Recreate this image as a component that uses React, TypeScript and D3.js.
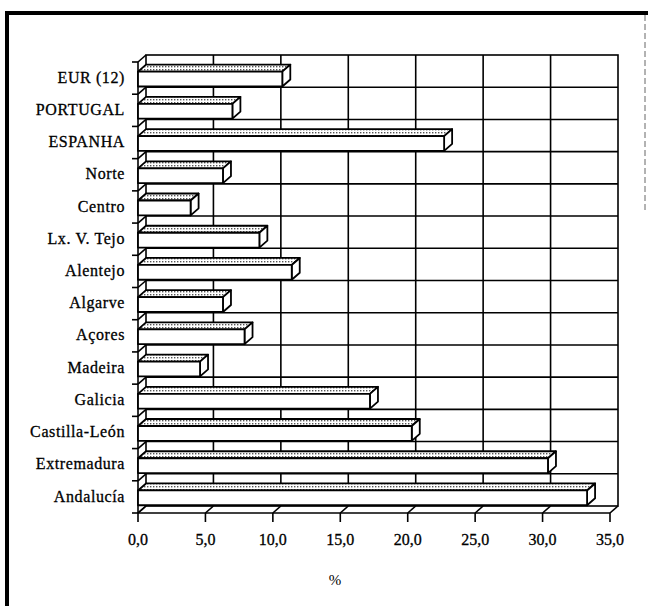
import React from "react";
import * as d3 from "d3";

const categories = [
  "EUR (12)", "PORTUGAL", "ESPANHA", "Norte", "Centro", "Lx. V. Tejo", "Alentejo",
  "Algarve", "Açores", "Madeira", "Galicia", "Castilla-León", "Extremadura", "Andalucía",
];
const values = [10.7, 7.0, 22.7, 6.3, 3.9, 9.0, 11.4, 6.3, 7.9, 4.6, 17.2, 20.3, 30.4, 33.3];
const xTicks = [0, 5, 10, 15, 20, 25, 30, 35];
const axisTitle = "%";

const W = 648;
const H = 606;
const DX = 8;
const DY = 7;
const FONT = "Liberation Serif, Times New Roman, Times, serif";

export default function App() {
  const x = d3.scaleLinear().domain([0, 35]).range([138, 610]);
  const y = d3.scaleBand<string>().domain(categories).range([62, 513]).padding(0);
  const bw = y.bandwidth();
  const x0 = x(0);
  const yTop = 62;
  const yBot = 513;
  const fmt = (v: number) => v.toFixed(1).replace(".", ",");
  const boundaries = categories.map((c) => y(c) as number).concat([yBot]);

  return (
    <svg width={W} height={H} style={{ position: "absolute", left: 0, top: 0, background: "#fff" }}>
      <defs>
        <pattern id="dots" width="3" height="3" patternUnits="userSpaceOnUse">
          <rect width="3" height="3" fill="#fff" />
          <rect x="0" y="0" width="1.4" height="1.4" fill="#555" />
        </pattern>
      </defs>
      {/* outer frame */}
      <rect x={0} y={0} width={W} height={H} fill="#fff" />
      <line x1={7} y1={11} x2={7} y2={H} stroke="#000" strokeWidth={4} />
      <line x1={5} y1={13} x2={W} y2={13} stroke="#000" strokeWidth={4} />
      <line x1={645} y1={15} x2={645} y2={210} stroke="#666" strokeWidth={1} strokeDasharray="6 3" />

      {/* back wall */}
      <g stroke="#000" strokeWidth={1.6} fill="none">
        <rect x={x0 + DX} y={yTop - DY} width={x(35) - x0} height={yBot - yTop} />
        {xTicks.slice(1, -1).map((t) => (
          <line key={"vg" + t} x1={x(t) + DX} y1={yTop - DY} x2={x(t) + DX} y2={yBot - DY} />
        ))}
        {boundaries.slice(1, -1).map((b, i) => (
          <line key={"hg" + i} x1={x0 + DX} y1={b - DY} x2={x(35) + DX} y2={b - DY} />
        ))}
        {/* left wall */}
        <line x1={x0} y1={yTop} x2={x0} y2={yBot} />
        {boundaries.map((b, i) => (
          <line key={"lw" + i} x1={x0} y1={b} x2={x0 + DX} y2={b - DY} />
        ))}
        {/* floor */}
        <line x1={x0} y1={yBot} x2={x(35)} y2={yBot} />
        {xTicks.map((t) => (
          <line key={"fl" + t} x1={x(t)} y1={yBot} x2={x(t) + DX} y2={yBot - DY} />
        ))}
        {/* ticks */}
        {boundaries.map((b, i) => (
          <line key={"ct" + i} x1={x0 - 6} y1={b} x2={x0} y2={b} />
        ))}
        {xTicks.map((t) => (
          <line key={"xt" + t} x1={x(t)} y1={yBot} x2={x(t)} y2={yBot + 9} />
        ))}
      </g>

      {/* bars */}
      {categories.map((c, i) => {
        const v = values[i];
        const top = (y(c) as number) + bw * 0.3;
        const bot = top + bw * 0.46;
        const xr = x(v);
        const topFace = `M${x0},${top} L${xr},${top} L${xr + DX},${top - DY} L${x0 + DX},${top - DY} Z`;
        const endFace = `M${xr},${top} L${xr + DX},${top - DY} L${xr + DX},${bot - DY} L${xr},${bot} Z`;
        return (
          <g key={c} stroke="#000" strokeWidth={1.8} strokeLinejoin="round">
            <path d={topFace} fill="url(#dots)" />
            <path d={endFace} fill="#fff" />
            <rect x={x0} y={top} width={xr - x0} height={bot - top} fill="#fff" />
          </g>
        );
      })}

      {/* category labels */}
      {categories.map((c) => (
        <text
          key={"l" + c}
          x={125}
          y={(y(c) as number) + bw * 0.53}
          textAnchor="end"
          dominantBaseline="middle"
          fontFamily={FONT}
          fontSize={16}
          letterSpacing={0.6}
          stroke="#000"
          strokeWidth={0.3}
          fill="#000"
        >
          {c}
        </text>
      ))}

      {/* value tick labels */}
      {xTicks.map((t) => (
        <text
          key={"tl" + t}
          x={x(t)}
          y={545}
          textAnchor="middle"
          fontFamily={FONT}
          fontSize={16}
          stroke="#000"
          strokeWidth={0.3}
          fill="#000"
        >
          {fmt(t)}
        </text>
      ))}
      <text x={335} y={585} textAnchor="middle" fontFamily={FONT} fontSize={15} fill="#000">
        {axisTitle}
      </text>
    </svg>
  );
}
